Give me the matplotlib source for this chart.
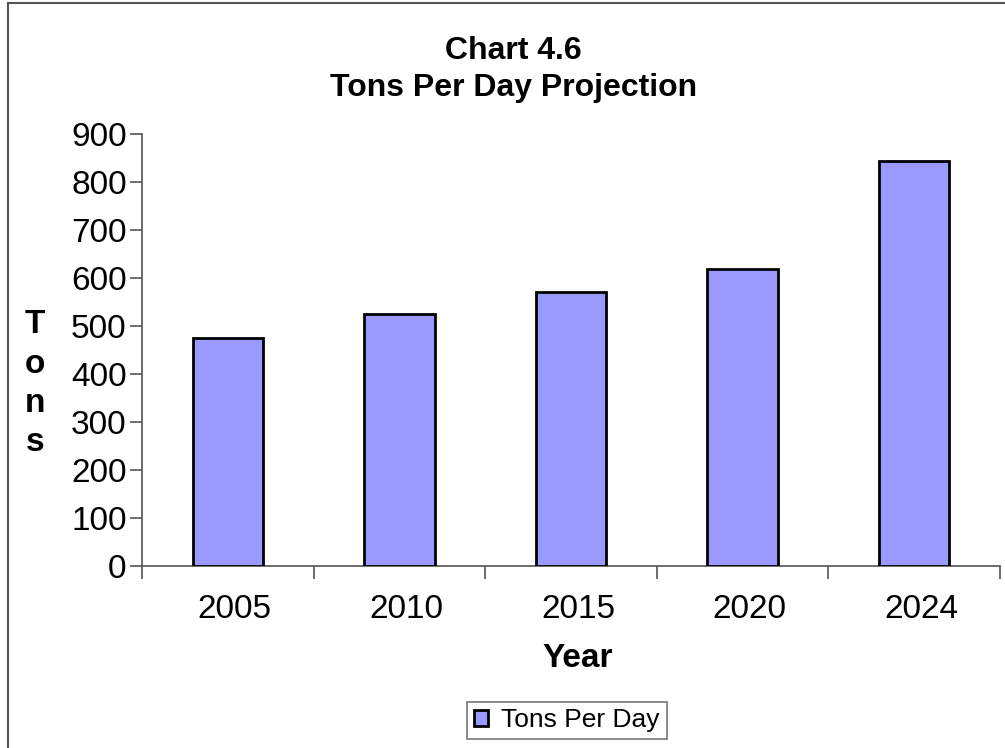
import numpy as np
import matplotlib.pyplot as plt
import matplotlib.transforms as mtransforms
from matplotlib.lines import Line2D

plt.rcParams['font.family'] = ['Liberation Sans', 'DejaVu Sans']

years = ['2005', '2010', '2015', '2020', '2024']
tons = [475, 525, 571, 618, 843]

fig = plt.figure(figsize=(10.05, 7.48), dpi=100)
ax = fig.add_axes([0.1413, 0.2433, 0.8537, 0.5776])

x = np.arange(len(years))
bars = ax.bar(x, tons, width=0.41, color='#9999ff', edgecolor='black',
              linewidth=2, label='Tons Per Day', zorder=3)

ax.set_xlim(-0.5, len(years) - 0.5)
ax.set_ylim(0, 900)
ax.set_yticks(np.arange(0, 901, 100))

# boundaries get the tick marks, centres get the labels
ax.set_xticks(np.arange(-0.5, len(years), 1.0))
ax.set_xticklabels([])
ax.set_xticks(x, minor=True)
ax.set_xticklabels(years, minor=True)
ax.tick_params(axis='x', which='major', direction='out', length=9,
               width=1.2, color='#555555')
ax.tick_params(axis='x', which='minor', length=0, pad=20, labelsize=24)
ax.tick_params(axis='y', direction='out', length=9, width=1.2,
               color='#555555', labelsize=24, pad=2)

# the year labels sit a few pixels right of the bar centres
shift = mtransforms.ScaledTranslation(7 / 100, 0, fig.dpi_scale_trans)
for lbl in ax.get_xticklabels(minor=True):
    lbl.set_transform(lbl.get_transform() + shift)

for side in ['top', 'right']:
    ax.spines[side].set_visible(False)
for side in ['left', 'bottom']:
    ax.spines[side].set_color('#555555')
    ax.spines[side].set_linewidth(1.2)

ax.set_xlabel('Year', fontsize=24, fontweight='bold')
ax.xaxis.set_label_coords(0.508, -0.178)
fig.text(0.035, 0.487, 'T\no\nn\ns', fontsize=24, fontweight='bold',
         ha='center', va='center', linespacing=1.35)

fig.text(0.511, 0.932, 'Chart 4.6', fontsize=23, fontweight='bold',
         ha='center', va='center')
fig.text(0.511, 0.883, 'Tons Per Day Projection', fontsize=23,
         fontweight='bold', ha='center', va='center')

leg = fig.legend(handles=[bars], loc='center', bbox_to_anchor=(0.564, 0.037),
                 fontsize=19, frameon=True, fancybox=False, handlelength=0.55,
                 handleheight=0.55, handletextpad=0.5, borderpad=0.25)
leg.get_frame().set_edgecolor('#555555')
leg.get_frame().set_linewidth(1.2)

# page frame, cut off at the right and bottom
fig.add_artist(Line2D([0.008, 0.008], [0, 0.996], color='#555555', lw=1.5))
fig.add_artist(Line2D([0.008, 1.0], [0.996, 0.996], color='#555555', lw=1.5))

fig.savefig('out.png', dpi=100)
